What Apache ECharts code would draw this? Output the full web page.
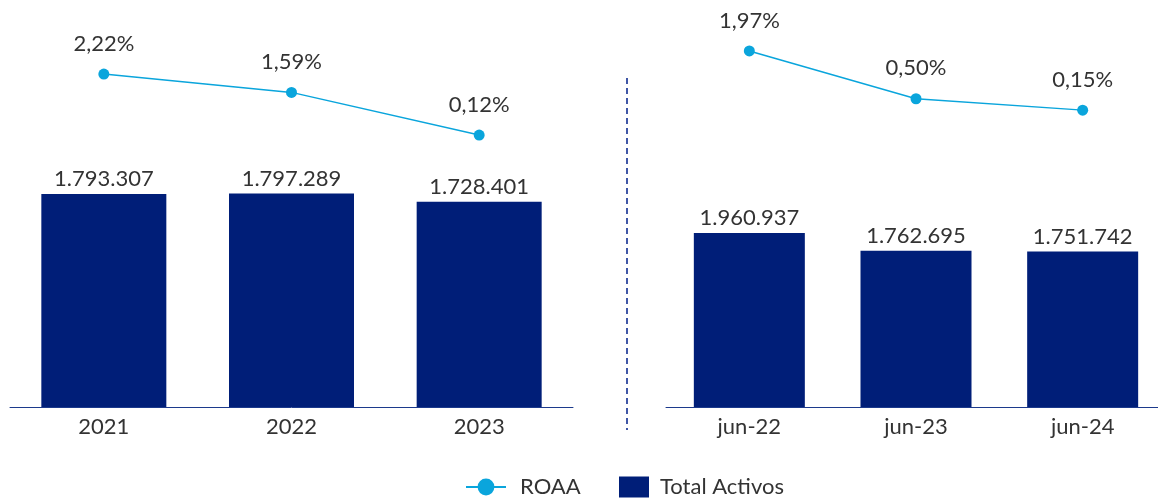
<!DOCTYPE html>
<html>
<head>
<meta charset="utf-8">
<script src="https://cdn.jsdelivr.net/npm/echarts@6/dist/echarts.min.js"></script>
<style>
  html, body { margin: 0; padding: 0; background: #fff; }
  #chart { width: 1158px; height: 498px; }
</style>
</head>
<body>
<div id="chart"></div>
<script>
// datos anuales
var yearCats = ["2021", "2022", "2023"];
var yearAssets = [1793307, 1797289, 1728401];
var yearRoaa = [2.22, 1.59, 0.12];

// datos a junio
var junCats = ["jun-22", "jun-23", "jun-24"];
var junAssets = [1960937, 1762695, 1751742];
var junRoaa = [1.97, 0.50, 0.15];

var navy = "#001E78";
var cyan = "#0AA5DC";
var txt = "#333333";
var font = "Lato";
var fs = 22;

function fmtMiles(v) {
  return String(v).replace(/\B(?=(\d{3})+(?!\d))/g, ".");
}
function fmtPct(v) {
  return v.toFixed(2).replace(".", ",") + "%";
}

var chart = echarts.init(document.getElementById("chart"));

function catAxis(idx, data, showLine) {
  return {
    type: "category",
    gridIndex: idx,
    data: data,
    axisTick: { show: false },
    axisLine: { show: showLine, lineStyle: { color: "#1c3a8c", width: 1 } },
    axisLabel: { show: showLine, color: txt, fontSize: fs, fontFamily: font, margin: 9 }
  };
}
function valAxis(idx, max) {
  return {
    type: "value",
    gridIndex: idx,
    min: 0,
    max: max,
    show: false,
    splitLine: { show: false }
  };
}

var option = {
  animation: false,
  grid: [
    { left: 10, width: 563, top: 169.4, height: 237.6, outerBoundsMode: "none" },   // barras anual
    { left: 10, width: 563, top: 51.5, height: 87, outerBoundsMode: "none" },       // ROAA anual
    { left: 666, width: 500, top: 229.6, height: 177.4, outerBoundsMode: "none" },  // barras junio
    { left: 666, width: 500, top: 50, height: 65, outerBoundsMode: "none" }         // ROAA junio
  ],
  xAxis: [
    catAxis(0, yearCats, true),
    catAxis(1, yearCats, false),
    catAxis(2, junCats, true),
    catAxis(3, junCats, false)
  ],
  yAxis: [
    valAxis(0, 2000000),
    valAxis(1, 3),
    valAxis(2, 2000000),
    valAxis(3, 2)
  ],
  legend: [
    {
      left: 465,
      top: 476,
      padding: 0,
      itemWidth: 40,
      itemHeight: 21,
      textStyle: { color: txt, fontSize: fs, fontFamily: font, padding: [0, 0, 0, 9] },
      data: [{ name: "ROAA" }]
    },
    {
      left: 619,
      top: 476,
      padding: 0,
      itemWidth: 30,
      itemHeight: 21,
      textStyle: { color: txt, fontSize: fs, fontFamily: font, padding: [0, 0, 0, 6] },
      data: [{ name: "Total Activos", icon: "rect" }]
    }
  ],
  graphic: [
    {
      type: "line",
      shape: { x1: 627, y1: 78, x2: 627, y2: 430 },
      style: { stroke: "#3f56a6", lineWidth: 2, lineDash: [6, 4] }
    }
  ],
  series: [
    {
      name: "Total Activos",
      type: "bar",
      xAxisIndex: 0,
      yAxisIndex: 0,
      data: yearAssets,
      barWidth: 125,
      itemStyle: { color: navy },
      label: {
        show: true, position: "top", distance: 4,
        color: txt, fontSize: fs, fontFamily: font,
        formatter: function (p) { return fmtMiles(p.value); }
      }
    },
    {
      name: "ROAA",
      type: "line",
      xAxisIndex: 1,
      yAxisIndex: 1,
      data: yearRoaa,
      symbol: "circle",
      symbolSize: 11,
      lineStyle: { color: cyan, width: 1.5 },
      itemStyle: { color: cyan },
      label: {
        show: true, position: "top", distance: 14,
        color: txt, fontSize: fs, fontFamily: font,
        formatter: function (p) { return fmtPct(p.value); }
      }
    },
    {
      name: "Total Activos",
      type: "bar",
      xAxisIndex: 2,
      yAxisIndex: 2,
      data: junAssets,
      barWidth: 111,
      itemStyle: { color: navy },
      label: {
        show: true, position: "top", distance: 4,
        color: txt, fontSize: fs, fontFamily: font,
        formatter: function (p) { return fmtMiles(p.value); }
      }
    },
    {
      name: "ROAA",
      type: "line",
      xAxisIndex: 3,
      yAxisIndex: 3,
      data: junRoaa,
      symbol: "circle",
      symbolSize: 11,
      lineStyle: { color: cyan, width: 1.5 },
      itemStyle: { color: cyan },
      label: {
        show: true, position: "top", distance: 14,
        color: txt, fontSize: fs, fontFamily: font,
        formatter: function (p) { return fmtPct(p.value); }
      }
    }
  ]
};
chart.setOption(option);
</script>
</body>
</html>
